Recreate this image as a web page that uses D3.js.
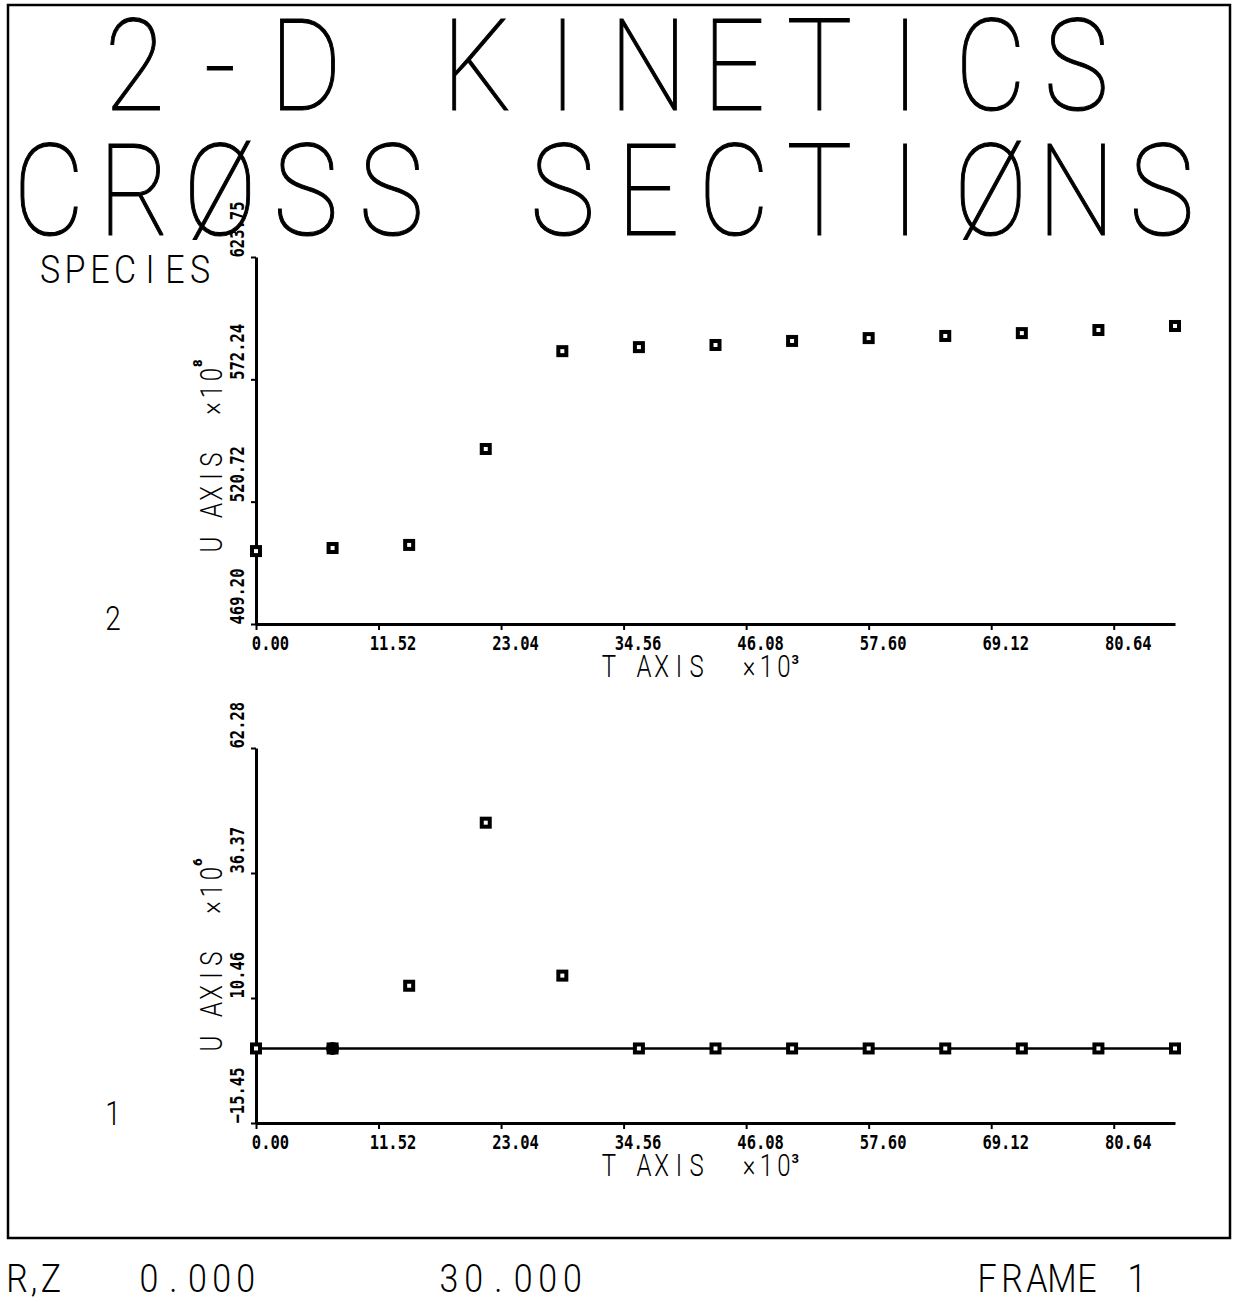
<!DOCTYPE html>
<html>
<head>
<meta charset="utf-8">
<script src="https://cdn.jsdelivr.net/npm/d3@7"></script>
<style>
    body { margin: 0; background: #fff; }
    svg { display: block; }
    .axis path, .axis line { stroke: #000; }
    .axis .domain { stroke-width: 3; }
    .axis .tick line { stroke-width: 2; }
    .axis text {
        font-family: "DejaVu Sans Mono", monospace;
        font-weight: bold;
        font-size: 15.5px;
        fill: #000;
    }
</style>
</head>
<body>
<script>
(function(){
    // Chart data
    var tValues = [0, 7.2, 14.4, 21.6, 28.8, 36.0, 43.2, 50.4, 57.6, 64.8, 72.0, 79.2, 86.4];
    var species2U = [499.9, 501.2, 502.5, 542.9, 584.1, 585.8, 586.7, 588.4, 589.6, 590.5, 591.7, 593.0, 594.7];
    var species1U = [0, 0, 13.0, 46.8, 15.1, 0, 0, 0, 0, 0, 0, 0, 0];
    // the t = 7.2 point of species 1 is plotted as a solid dot
    var species1DotT = [7.2];
    var species1DotU = [0];

    // Tick labels
    var tTicks = [0, 11.52, 23.04, 34.56, 46.08, 57.60, 69.12, 80.64];
    var u2Ticks = [469.20, 520.72, 572.24, 623.75];
    var u1Ticks = [-15.45, 10.46, 36.37, 62.28];

    var width = 1244, height = 1302;
    var plotFont = "Roboto, 'DejaVu Sans', sans-serif";

    var svg = d3.select("body")
        .append("svg")
        .attr("width", width)
        .attr("height", height);

    svg.append("rect")
        .attr("width", width)
        .attr("height", height)
        .attr("fill", "#fff");

    // frame
    svg.append("rect")
        .attr("x", 8)
        .attr("y", 5)
        .attr("width", 1222)
        .attr("height", 1233)
        .attr("fill", "none")
        .attr("stroke", "#000")
        .attr("stroke-width", 2.5);

    //==========================================
    // PLOTTER STYLE TEXT (one glyph per cell)
    //==========================================
    function plotText(parent, str, x0, baseline, pitch, size, sy, weight, stroke){
        var chars = str.split("");
        var t = parent.append("text")
            .attr("transform", "translate(0," + baseline + ") scale(1," + sy + ")")
            .attr("x", chars.map(function(c, i){ return x0 + i * pitch; }).join(" "))
            .attr("y", 0)
            .attr("text-anchor", "middle")
            .attr("font-family", plotFont)
            .attr("font-weight", weight || 300)
            .attr("font-size", size)
            .attr("fill", "#000")
            .style("white-space", "pre")
            .text(str);
        if (stroke){
            t.attr("stroke", "#000").attr("stroke-width", stroke);
        }
        return t;
    }

    // Title
    plotText(svg, "2-D KINETICS", 49 + 85.6, 110, 85.6, 110, 1.16, 100, 0.9);
    plotText(svg, "CRØSS SECTIØNS", 49, 235, 85.6, 110, 1.16, 100, 0.9);

    plotText(svg, "SPECIES", 50, 283, 25, 34, 1.15);
    plotText(svg, "R,Z", 17, 1292, 17, 34, 1.12);
    plotText(svg, "0.000", 149, 1292, 24.2, 34, 1.12);
    plotText(svg, "30.000", 449, 1292, 24.7, 34, 1.12);
    plotText(svg, "FRAME 1", 987, 1292, 25, 34, 1.12);

    //==========================================
    // SHARED X SCALE
    //==========================================
    var x = d3.scaleLinear()
        .domain([0, 86.4])
        .range([256, 1175]);

    //==========================================
    // ONE PANEL
    //==========================================
    function drawPanel(opts){
        var y = d3.scaleLinear()
            .domain(opts.domain)
            .range([opts.bottom, opts.top]);

        var g = svg.append("g");

        // zero line (species 1 panel)
        if (opts.zeroLine){
            g.append("line")
                .attr("x1", x(0))
                .attr("x2", x(86.4))
                .attr("y1", y(0))
                .attr("y2", y(0))
                .attr("stroke", "#000")
                .attr("stroke-width", 2.5);
        }

        // bottom axis
        var xAxis = d3.axisBottom(x)
            .tickValues(tTicks)
            .tickSize(6)
            .tickSizeOuter(0)
            .tickFormat(d3.format(".2f"));
        g.append("g")
            .attr("class", "x axis")
            .attr("transform", "translate(0," + opts.bottom + ")")
            .call(xAxis)
            .selectAll("text")
            .attr("y", 0)
            .attr("dy", null)
            .attr("transform", "translate(14,26) scale(1,1.3)");

        // left axis, labels rotated
        var yAxis = d3.axisLeft(y)
            .tickValues(opts.ticks)
            .tickSize(5)
            .tickSizeOuter(0)
            .tickFormat(d3.format(".2f"));
        g.append("g")
            .attr("class", "y axis")
            .attr("transform", "translate(" + x(0) + ",0)")
            .call(yAxis)
            .selectAll("text")
            .attr("x", 0)
            .attr("dy", null)
            .attr("text-anchor", "start")
            .attr("transform", "translate(-12,0) rotate(-90) scale(1,1.3)");

        // axis titles
        plotText(g, "T AXIS  ×10", opts.tTitleX, opts.bottom + 53, 17.5, 24, 1.3);
        g.append("text")
            .attr("x", opts.tTitleX + 11 * 17.5 - 10)
            .attr("y", opts.bottom + 40)
            .attr("font-family", plotFont)
            .attr("font-size", 13)
            .attr("font-weight", 700)
            .text("3");

        var ug = g.append("g")
            .attr("transform", "translate(222," + opts.uTitleY + ") rotate(-90)");
        plotText(ug, "U AXIS  ×10", 8.5, 0, 17, 24, 1.3);
        ug.append("text")
            .attr("x", 186)
            .attr("y", -20)
            .attr("font-family", plotFont)
            .attr("font-size", 13)
            .attr("font-weight", 900)
            .text(opts.uExp);

        // species number
        plotText(g, opts.label, 113, opts.labelY, 20, 28, 1.2);

        // square markers
        g.selectAll(".pt")
            .data(opts.values)
            .enter()
            .append("rect")
            .attr("class", "pt")
            .attr("x", function(d, i){ return x(tValues[i]) - 4; })
            .attr("y", function(d){ return y(d) - 4; })
            .attr("width", 8)
            .attr("height", 8)
            .attr("fill", "#fff")
            .attr("stroke", "#000")
            .attr("stroke-width", 4);

        return {g: g, y: y};
    }

    drawPanel({
        domain: [469.20, 623.75],
        top: 257,
        bottom: 624,
        ticks: u2Ticks,
        values: species2U,
        tTitleX: 609,
        uTitleY: 553,
        uExp: "8",
        label: "2",
        labelY: 630
    });

    var p1 = drawPanel({
        domain: [-15.45, 62.28],
        top: 748,
        bottom: 1123,
        ticks: u1Ticks,
        values: species1U,
        zeroLine: true,
        tTitleX: 609,
        uTitleY: 1052,
        uExp: "6",
        label: "1",
        labelY: 1125
    });

    // solid dot
    p1.g.selectAll(".dot")
        .data(species1DotT)
        .enter()
        .append("circle")
        .attr("class", "dot")
        .attr("cx", function(d){ return x(d); })
        .attr("cy", function(d, i){ return p1.y(species1DotU[i]); })
        .attr("r", 6.5)
        .attr("fill", "#000");
})();
</script>
</body>
</html>
